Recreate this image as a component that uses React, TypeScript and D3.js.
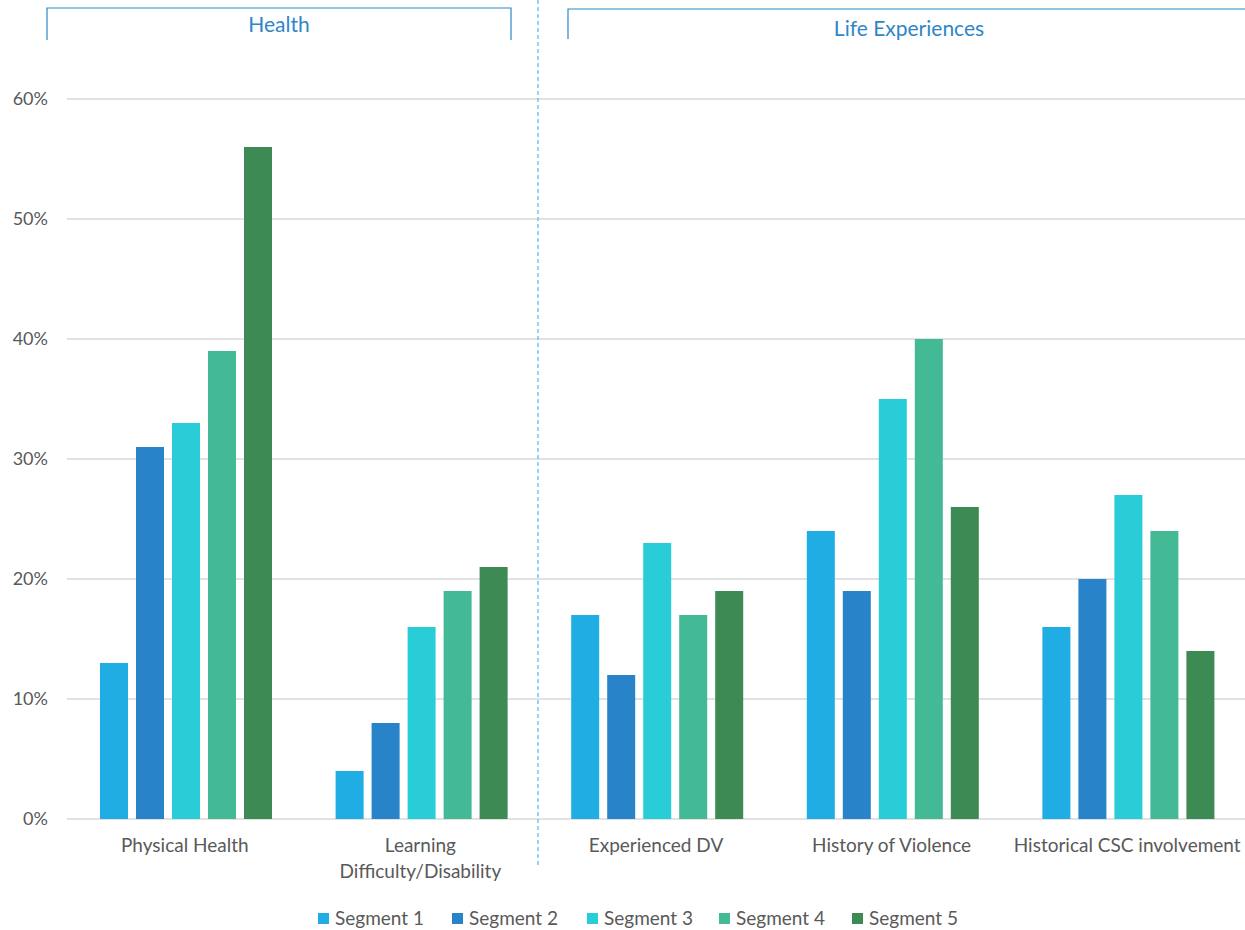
import React from "react";
import * as d3 from "d3";

const categories = ["Physical Health", "Learning Difficulty/Disability", "Experienced DV", "History of Violence", "Historical CSC involvement"];
const categoryLines = [["Physical Health"], ["Learning", "Difficulty/Disability"], ["Experienced DV"], ["History of Violence"], ["Historical CSC involvement"]];
const seriesNames = ["Segment 1", "Segment 2", "Segment 3", "Segment 4", "Segment 5"];
const seriesColors = ["#1FADE4", "#2883C8", "#29CDD7", "#43BA95", "#3D8A55"];
const values = [
  [13, 31, 33, 39, 56],
  [4, 8, 16, 19, 21],
  [17, 12, 23, 17, 19],
  [24, 19, 35, 40, 26],
  [16, 20, 27, 24, 14],
];
const yTicks = [0, 10, 20, 30, 40, 50, 60];

const W = 1245, H = 930;
const FONT = "Lato, 'Open Sans', sans-serif";

export default function App() {
  const x0 = d3.scaleBand<string>().domain(categories).range([67, 1245]).paddingInner(0).paddingOuter(0);
  const x1 = d3.scaleBand<string>().domain(seriesNames).range([33, 205]).paddingInner(8 / 36).paddingOuter(0);
  const y = d3.scaleLinear().domain([0, 60]).range([819, 99]);

  const legendX = [318, 452, 587, 719, 852];

  return (
    <div style={{ position: "absolute", left: 0, top: 0 }}>
      <svg width={W} height={H} style={{ display: "block", fontFamily: FONT }}>
        <rect width={W} height={H} fill="#fff" />
        {yTicks.map((t) => (
          <g key={t}>
            <line x1={67} x2={1245} y1={y(t)} y2={y(t)} stroke="#D9D9D9" strokeWidth={1.3} />
            <text x={48} y={y(t)} dy="0.35em" textAnchor="end" fontSize={18} fill="#595959">{t}%</text>
          </g>
        ))}
        {categories.map((c, ci) => (
          <g key={c} transform={`translate(${x0(c)},0)`}>
            {values[ci].map((v, si) => (
              <rect key={si} x={x1(seriesNames[si])} y={y(v)} width={x1.bandwidth()} height={y(0) - y(v)} fill={seriesColors[si]} />
            ))}
            {categoryLines[ci].map((ln, li) => (
              <text key={li} x={x0.bandwidth() / 2} y={852} dy={li * 26} textAnchor="middle" fontSize={19} fill="#595959">{ln}</text>
            ))}
          </g>
        ))}
        <line x1={538} x2={538} y1={0} y2={866} stroke="#5BC0E8" strokeWidth={1.3} strokeDasharray="4,3" />
        <path d="M47,40 V8 H511 V40" fill="none" stroke="#2E86C8" strokeWidth={1.2} />
        <text x={279} y={32} textAnchor="middle" fontSize={21} fill="#2E86C8">Health</text>
        <path d="M568,39 V9 H1250" fill="none" stroke="#2E86C8" strokeWidth={1.2} />
        <text x={909} y={36} textAnchor="middle" fontSize={21} fill="#2E86C8">Life Experiences</text>
        {seriesNames.map((s, i) => (
          <g key={s}>
            <rect x={legendX[i]} y={913} width={11} height={11} fill={seriesColors[i]} />
            <text x={legendX[i] + 17} y={918.5} dy="0.35em" fontSize={19} fill="#595959">{s}</text>
          </g>
        ))}
      </svg>
    </div>
  );
}
